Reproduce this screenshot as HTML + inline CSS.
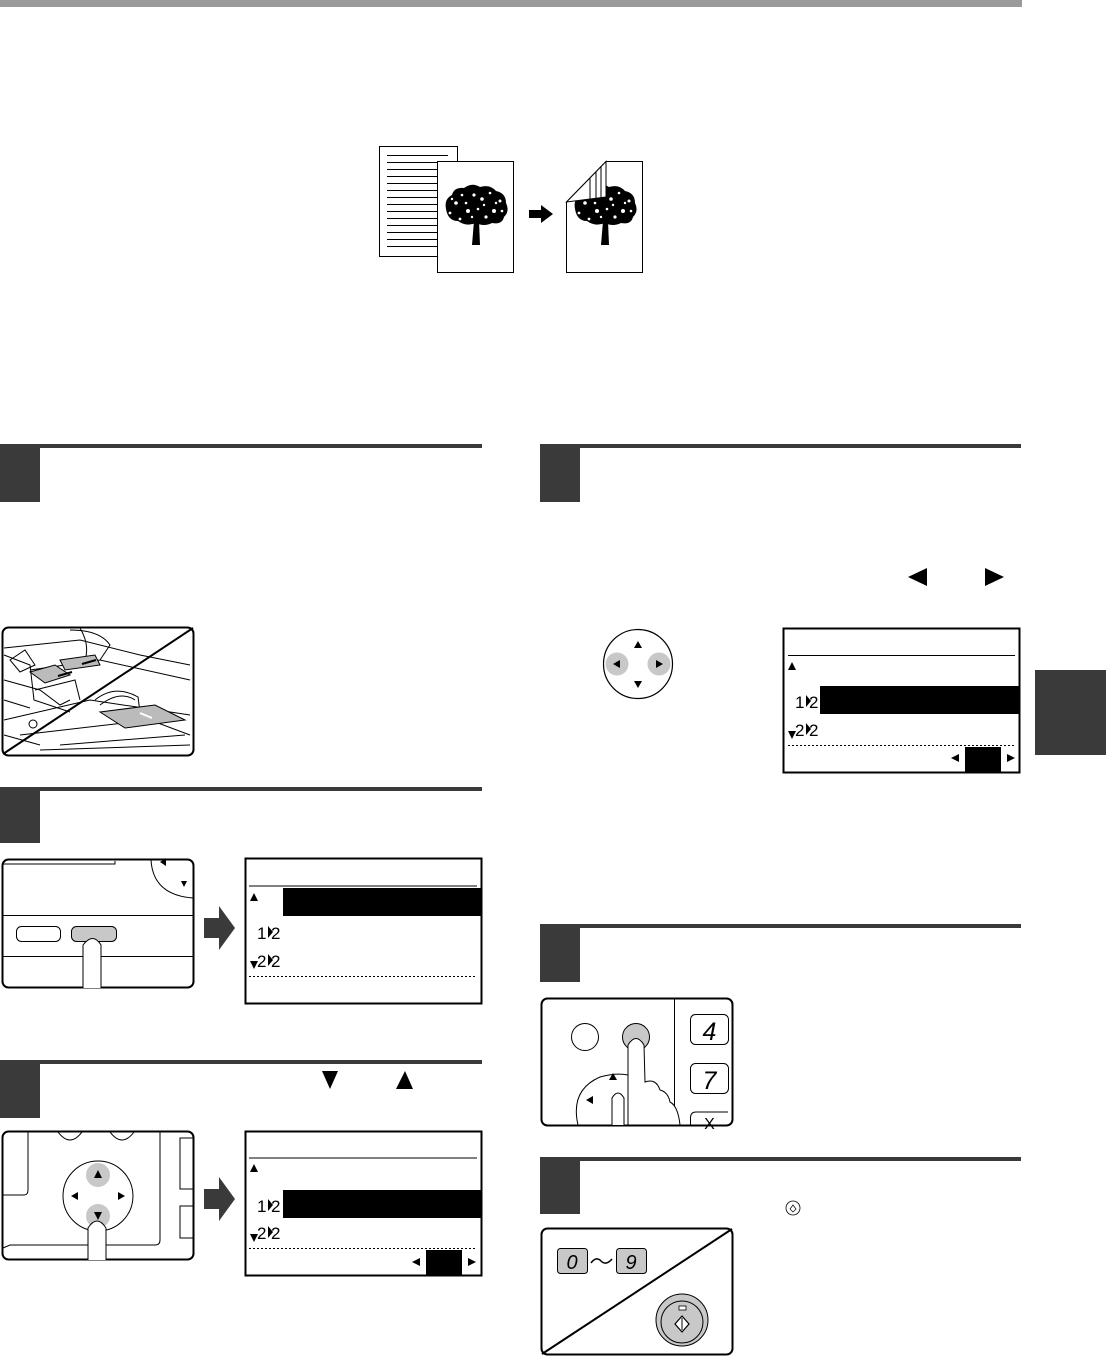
<!DOCTYPE html>
<html><head><meta charset="utf-8"><style>html,body{margin:0;padding:0;background:#fff}svg{display:block}</style></head>
<body>
<svg width="1106" height="1357" viewBox="0 0 1106 1357" xmlns="http://www.w3.org/2000/svg" font-family="Liberation Sans, sans-serif">
<defs>
<g id="tree">
 <path d="M-4 30 L-2 6 L-12 -2 L-3 1 L-2 -8 L2 -8 L3 1 L12 -4 L3 6 L4 30 Z" fill="#000"/>
 <path d="M-30 -6 Q-32 -16 -24 -20 Q-22 -28 -12 -27 Q-4 -33 4 -28 Q14 -31 20 -24 Q30 -22 30 -12 Q34 -4 28 2 Q26 10 16 8 Q8 12 0 8 Q-10 12 -18 6 Q-28 6 -30 -6 Z" fill="#000"/>
 <g fill="#fff">
  <circle cx="-20" cy="-12" r="1.8"/><circle cx="-8" cy="-4" r="2"/><circle cx="6" cy="-16" r="1.8"/><circle cx="18" cy="-4" r="2"/><circle cx="-2" cy="-20" r="1.6"/><circle cx="24" cy="-14" r="1.5"/><circle cx="-26" cy="-2" r="1.4"/><circle cx="10" cy="2" r="1.6"/><circle cx="-16" cy="4" r="1.4"/><circle cx="2" cy="-6" r="1.3"/>
  <circle cx="-14" cy="-20" r="1.3"/><circle cx="14" cy="-22" r="1.3"/><circle cx="26" cy="-4" r="1.3"/><circle cx="-24" cy="-16" r="1.2"/><circle cx="8" cy="-10" r="1.2"/><circle cx="-10" cy="-12" r="1.3"/><circle cx="20" cy="-12" r="1.2"/><circle cx="-4" cy="2" r="1.2"/>
 </g>
</g>
</defs>
<rect x="0" y="0" width="1022" height="7" fill="#9a9a9a"/>
<rect x="1035" y="670" width="71" height="85" fill="#3a3a3a"/>

<!-- top figure -->
<rect x="379.5" y="146.5" width="78" height="110" fill="#fff" stroke="#000"/>
<g stroke="#000">
<line x1="387" y1="155.5" x2="448" y2="155.5"/><line x1="387" y1="162.5" x2="437" y2="162.5"/><line x1="387" y1="169.5" x2="437" y2="169.5"/><line x1="387" y1="176.5" x2="437" y2="176.5"/><line x1="387" y1="183.5" x2="437" y2="183.5"/><line x1="387" y1="190.5" x2="437" y2="190.5"/><line x1="387" y1="197.5" x2="437" y2="197.5"/><line x1="387" y1="204.5" x2="437" y2="204.5"/><line x1="387" y1="211.5" x2="437" y2="211.5"/><line x1="387" y1="218.5" x2="437" y2="218.5"/><line x1="387" y1="225.5" x2="437" y2="225.5"/><line x1="387" y1="232.5" x2="437" y2="232.5"/><line x1="387" y1="239.5" x2="437" y2="239.5"/><line x1="387" y1="246.5" x2="437" y2="246.5"/>
</g>
<rect x="437.5" y="161.5" width="76" height="111" fill="#fff" stroke="#000"/>
<use href="#tree" x="476" y="215"/>
<path d="M529 210 L541 210 L541 205 L553 214 L541 223 L541 218 L529 218 Z" fill="#000"/>
<path d="M606 161.5 L642.5 161.5 L642.5 272.5 L566.5 272.5 L566.5 202 Z" fill="#fff" stroke="#000"/>
<use href="#tree" x="605" y="215"/>
<path d="M566.5 202 L606 161.5 L606 197 Z" fill="#fff" stroke="#000"/>
<g stroke="#000"><line x1="590" y1="199" x2="590" y2="178"/><line x1="596" y1="198" x2="596" y2="172"/><line x1="601" y1="198" x2="601" y2="166"/></g>

<!-- step headers -->
<g fill="#3a3a3a">
<rect x="0" y="444" width="482" height="4"/><rect x="0" y="444" width="40" height="58"/>
<rect x="0" y="787" width="482" height="4"/><rect x="0" y="787" width="40" height="56"/>
<rect x="0" y="1060" width="482" height="4"/><rect x="0" y="1060" width="40" height="58"/>
<rect x="540" y="444" width="481" height="4"/><rect x="540" y="444" width="40" height="58"/>
<rect x="540" y="924" width="481" height="4"/><rect x="540" y="924" width="40" height="58"/>
<rect x="540" y="1157" width="481" height="4"/><rect x="540" y="1157" width="40" height="57"/>
</g>
<path d="M908 577 L927 568 L927 586 Z" fill="#000"/>
<path d="M985 568 L1004 577 L985 586 Z" fill="#000"/>
<path d="M322 1071 L338 1071 L330 1089 Z" fill="#000"/>
<path d="M405 1071 L413 1089 L396 1089 Z" fill="#000"/>
<circle cx="793" cy="1208" r="7" fill="#fff" stroke="#000" stroke-width="0.8"/><path d="M793 1205 L796 1209 L793 1212 L790 1209Z" fill="none" stroke="#000" stroke-width="0.7"/>

<!-- step1 ADF illustration -->
<rect x="2.5" y="627.5" width="191" height="128" rx="6" fill="#fff" stroke="#000" stroke-width="2"/>
<g stroke="#000" fill="none" stroke-width="1">
<path d="M4 648 L80 640 L140 655 L190 665"/><path d="M30 670 L100 660 L190 680"/>
<path d="M4 680 L40 690 L60 705 L70 700"/><path d="M4 720 L90 700 L190 715"/>
<path d="M20 735 L150 720 L190 735"/><path d="M40 750 L190 745"/>
<path d="M4 655 L30 665 L34 700 L70 712"/><path d="M4 700 L30 708"/><path d="M4 735 L40 745"/>
<path d="M35 690 L75 680 L80 700"/><path d="M60 745 L185 735"/>
<path d="M80 628 Q90 645 85 660"/><path d="M10 660 L25 650 L35 665 L20 672Z"/>
<path d="M70 630 Q100 630 110 645 L100 660"/>
<path d="M100 705 Q120 690 135 700"/><path d="M95 700 Q115 684 138 697 L140 712"/><circle cx="33" cy="724" r="4"/>
</g>
<path d="M30 672 L55 665 L70 675 L45 683 Z" fill="#bbb" stroke="#000"/>
<path d="M60 660 L95 655 L100 665 L65 670 Z" fill="#bbb" stroke="#000"/>
<path d="M100 712 L155 705 L185 720 L125 728 Z" fill="#bbb" stroke="#000"/>
<path d="M140 713 L152 718" stroke="#fff" stroke-width="2"/>
<path d="M58 676 L72 672 M82 664 L96 660" stroke="#000" stroke-width="2"/>
<line x1="3" y1="754" x2="193" y2="628" stroke="#000" stroke-width="2"/>

<!-- step2 panel -->
<rect x="2.5" y="859.5" width="191" height="128" rx="6" fill="#fff" stroke="#000" stroke-width="2"/>
<g stroke="#000" fill="none">
<path d="M3 864 L115 864 L115 861"/><line x1="3" y1="915.5" x2="193" y2="915.5"/><line x1="3" y1="956.5" x2="193" y2="956.5"/>
<path d="M151 860 Q153 895 193 898"/>
<rect x="16.5" y="926.5" width="44" height="15" rx="5"/>
</g>
<path d="M160 862 L166 858 L166 866Z" fill="#000"/><path d="M181 881 L187 881 L184 887Z" fill="#000"/>
<rect x="71.5" y="926.5" width="45" height="15" rx="5" fill="#c8c8c8" stroke="#000"/>
<path d="M83 988 L83 945 Q93 932 101 945 L101 988" fill="#fff" stroke="#000"/>
<path d="M204 918 L219 918 L219 906 L235 928 L219 950 L219 938 L204 938 Z" fill="#3a3a3a"/>
<rect x="245.5" y="858.5" width="236" height="145" fill="#fff" stroke="#000" stroke-width="2"/>
<line x1="249" y1="886" x2="477" y2="886" stroke="#000"/>
<path d="M250 901 L254 893 L258 901Z" fill="#000"/>
<rect x="283" y="888" width="199" height="28" fill="#000"/>
<text x="257" y="939" font-size="17">1</text><path d="M268 926 L273 932 L268 938Z"/><text x="271" y="939" font-size="17">2</text>
<path d="M250 961 L258 961 L254 969Z"/><text x="257" y="967" font-size="17">2</text><path d="M268 954 L273 960 L268 966Z"/><text x="271" y="967" font-size="17">2</text>
<line x1="249" y1="976.5" x2="477" y2="976.5" stroke="#000" stroke-dasharray="2,2"/>

<!-- step3 panel -->
<rect x="2.5" y="1131.5" width="191" height="128" rx="6" fill="#fff" stroke="#000" stroke-width="2"/>
<g stroke="#000" fill="none">
<path d="M3 1195 L24 1195 Q28 1195 28 1190 L28 1132"/>
<path d="M58 1132 Q70 1148 82 1132"/><path d="M110 1132 Q122 1148 134 1132"/>
<path d="M160 1132 L160 1240 Q160 1245 155 1245 L10 1245 L3 1248"/>
<path d="M193 1138 L180 1138 L180 1189 L193 1189"/><path d="M193 1206 L180 1206 L180 1238 L193 1238"/>
<circle cx="98" cy="1196" r="35"/>
</g>
<circle cx="98" cy="1175" r="12" fill="#c8c8c8"/><circle cx="98" cy="1216" r="12" fill="#c8c8c8"/>
<path d="M94 1178 L98 1170 L102 1178Z"/><path d="M94 1212 L102 1212 L98 1220Z"/>
<path d="M71 1196 L78 1192 L78 1200Z"/><path d="M125 1196 L118 1192 L118 1200Z"/>
<path d="M88 1260 L88 1228 Q97 1214 106 1228 L106 1260" fill="#fff" stroke="#000"/>
<path d="M204 1189 L219 1189 L219 1177 L235 1199 L219 1221 L219 1209 L204 1209 Z" fill="#3a3a3a"/>
<rect x="245.5" y="1131.5" width="236" height="144" fill="#fff" stroke="#000" stroke-width="2"/>
<line x1="249" y1="1158" x2="477" y2="1158" stroke="#000"/>
<path d="M250 1172 L254 1164 L258 1172Z"/>
<rect x="283" y="1190" width="199" height="28" fill="#000"/>
<text x="257" y="1212" font-size="17">1</text><path d="M268 1199 L273 1205 L268 1211Z"/><text x="271" y="1212" font-size="17">2</text>
<path d="M250 1234 L258 1234 L254 1242Z"/><text x="257" y="1239" font-size="17">2</text><path d="M268 1226 L273 1232 L268 1238Z"/><text x="271" y="1239" font-size="17">2</text>
<line x1="249" y1="1248.5" x2="477" y2="1248.5" stroke="#000" stroke-dasharray="2,2"/>
<path d="M412 1262 L420 1258 L420 1266Z"/><rect x="426" y="1250" width="36" height="25" fill="#000"/><path d="M476 1262 L468 1258 L468 1266Z"/>

<!-- step4 dpad -->
<circle cx="638" cy="664" r="34.5" fill="#fff" stroke="#000" stroke-width="1.2"/>
<circle cx="617" cy="664" r="11.5" fill="#c8c8c8"/><circle cx="659" cy="664" r="11.5" fill="#c8c8c8"/>
<path d="M613 664 L620 660 L620 668Z"/><path d="M663 664 L656 660 L656 668Z"/>
<path d="M634 648 L638 641 L642 648Z"/><path d="M634 681 L642 681 L638 688Z"/>
<rect x="783.5" y="628.5" width="236" height="144" fill="#fff" stroke="#000" stroke-width="2"/>
<line x1="788" y1="655.5" x2="1015" y2="655.5" stroke="#000"/>
<path d="M788 670 L792 662 L796 670Z"/>
<rect x="820" y="686" width="200" height="28" fill="#000"/>
<text x="795" y="708" font-size="17">1</text><path d="M806 695 L811 701 L806 707Z"/><text x="809" y="708" font-size="17">2</text>
<path d="M788 731 L796 731 L792 739Z"/><text x="795" y="736" font-size="17">2</text><path d="M806 723 L811 729 L806 735Z"/><text x="809" y="736" font-size="17">2</text>
<line x1="788" y1="745.5" x2="1015" y2="745.5" stroke="#000" stroke-dasharray="2,2"/>
<path d="M951 758 L959 754 L959 762Z"/><rect x="965" y="747" width="36" height="25" fill="#000"/><path d="M1015 758 L1007 754 L1007 762Z"/>

<!-- step5 panel -->
<rect x="541.5" y="998.5" width="191" height="127" rx="6" fill="#fff" stroke="#000" stroke-width="2"/>
<g stroke="#000" fill="none">
<line x1="674.5" y1="999" x2="674.5" y2="1125"/>
<circle cx="585" cy="1037" r="13.5"/>
<path d="M578 1125 Q570 1090 600 1077 Q625 1070 640 1080"/>
<rect x="690.5" y="1014.5" width="38" height="30" rx="5"/><rect x="690.5" y="1063.5" width="38" height="30" rx="5"/><path d="M690.5 1126 L690.5 1118 Q690.5 1112 696 1112 L728 1112"/>
</g>
<circle cx="636" cy="1037" r="13.5" fill="#c8c8c8" stroke="#000"/>
<path d="M609 1080 L613 1073 L617 1080Z"/><path d="M586 1100 L593 1096 L593 1104Z"/>
<path d="M628 1125 L628 1045 Q636 1032 644 1045 L645 1082 Q656 1078 660 1090 Q668 1092 670 1102 Q678 1106 680 1125 Z" fill="#fff" stroke="#000"/>
<path d="M612 1125 L612 1098 Q618 1088 624 1098 L624 1125" fill="#fff" stroke="#000"/>
<text x="709.5" y="1040" font-size="25" font-style="italic" text-anchor="middle">4</text>
<text x="709.5" y="1089" font-size="25" font-style="italic" text-anchor="middle">7</text>
<text x="709.5" y="1129" font-size="16" text-anchor="middle">X</text>

<!-- step6 panel -->
<rect x="541.5" y="1228.5" width="191" height="126" rx="6" fill="#fff" stroke="#000" stroke-width="2"/>
<line x1="542" y1="1354" x2="732" y2="1229" stroke="#000" stroke-width="2"/>
<rect x="557.5" y="1248.5" width="30" height="25" rx="3" fill="#c8c8c8" stroke="#000"/>
<rect x="616.5" y="1248.5" width="30" height="25" rx="3" fill="#c8c8c8" stroke="#000"/>
<text x="572" y="1269" font-size="20" font-style="italic" text-anchor="middle">0</text>
<text x="631" y="1269" font-size="20" font-style="italic" text-anchor="middle">9</text>
<path d="M591 1263 Q596 1256 601 1261 Q606 1266 612 1259" fill="none" stroke="#000" stroke-width="1.5"/>
<circle cx="682" cy="1320" r="26" fill="#c8c8c8" stroke="#000"/>
<circle cx="682" cy="1322" r="21" fill="#c8c8c8" stroke="#000"/>
<rect x="679" y="1306" width="7" height="4" fill="#fff" stroke="#000" stroke-width="0.8"/>
<path d="M682 1316 L689 1324 L682 1332 L675 1324Z" fill="#fff" stroke="#000" stroke-width="1.2"/>
<line x1="682" y1="1318" x2="682" y2="1330" stroke="#000"/>
</svg>
</body></html>
